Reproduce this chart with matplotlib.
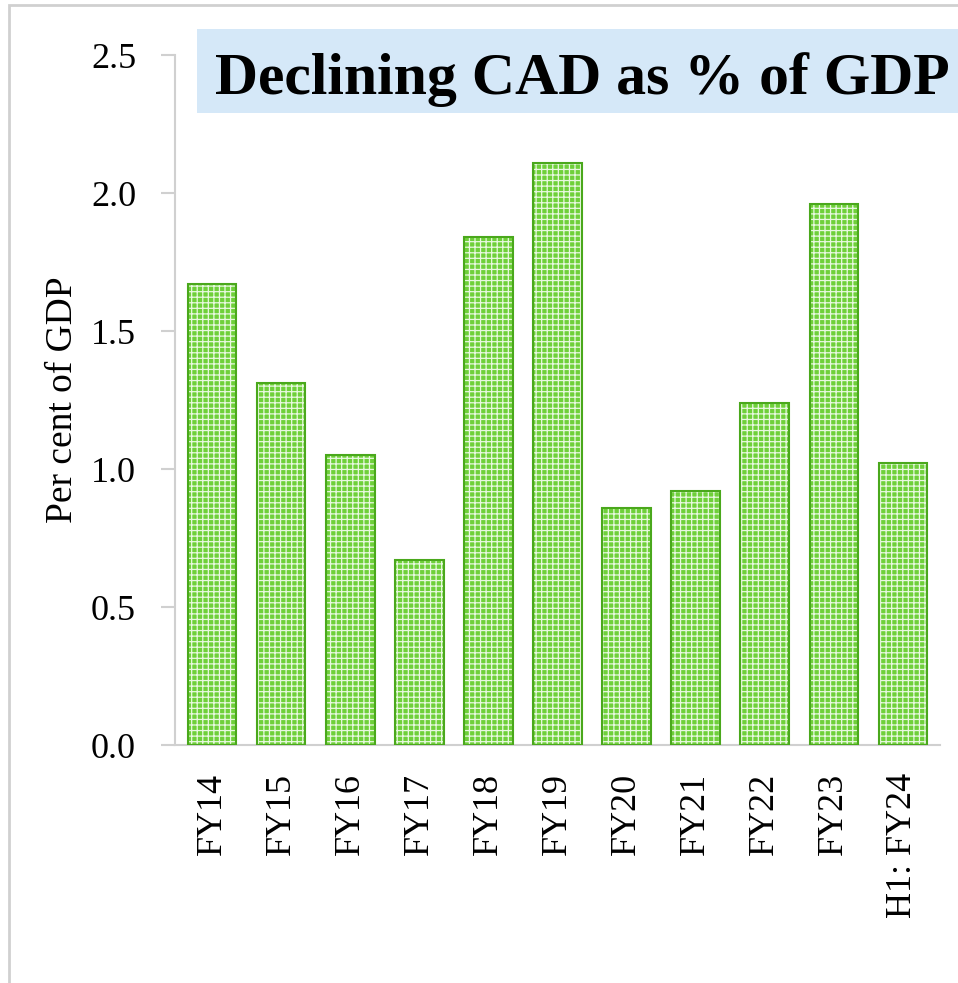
import matplotlib.pyplot as plt
from matplotlib.patches import Rectangle

# CAD as % of GDP
years = ['FY14', 'FY15', 'FY16', 'FY17', 'FY18', 'FY19', 'FY20', 'FY21', 'FY22', 'FY23', 'H1: FY24']
cad = [1.67, 1.31, 1.05, 0.67, 1.84, 2.11, 0.86, 0.92, 1.24, 1.96, 1.02]
yticks = [0.0, 0.5, 1.0, 1.5, 2.0, 2.5]

plt.rcParams['font.family'] = ['Liberation Serif', 'DejaVu Serif']
plt.rcParams['hatch.linewidth'] = 0.9

W, H = 958, 983
fig = plt.figure(figsize=(W / 100, H / 100), dpi=100)

# outer frame
fig.patches.append(Rectangle((9 / W, -0.1), 1.2, 1 - 5 / H + 0.1, transform=fig.transFigure,
                             fill=False, edgecolor='#d0d0d0', linewidth=2))

ax = fig.add_axes([175 / W, 1 - 745 / H, (940 - 175) / W, (745 - 55) / H])

x = range(len(years))
ax.bar(x, cad, width=0.7, color='#6fd03a', edgecolor='#e8f8e0', hatch='+++', linewidth=0, zorder=2)
ax.bar(x, cad, width=0.7, fill=False, edgecolor='#4aa81c', linewidth=1.5, zorder=3)

ax.set_xlim(-0.54, len(years) - 0.46)
ax.set_ylim(0, 2.5)
ax.set_yticks(yticks)
ax.set_yticklabels([f'{v:.1f}' for v in yticks])
ax.set_xticks(list(x))
ax.set_xticklabels(years, rotation=90)

for s in ['top', 'right']:
    ax.spines[s].set_visible(False)
for s in ['left', 'bottom']:
    ax.spines[s].set_color('#d0d0d0')
    ax.spines[s].set_linewidth(1.5)

ax.tick_params(axis='y', length=10, width=1.5, color='#d0d0d0', pad=18, labelsize=26)
ax.tick_params(axis='x', length=0, pad=20, labelsize=26)
ax.set_ylabel('Per cent of GDP', fontsize=27, labelpad=8)

# title box
fig.patches.append(Rectangle((197 / W, 1 - 113 / H), 1.0, 84 / H, transform=fig.transFigure,
                             facecolor='#d5e8f8', edgecolor='none'))
fig.text(215 / W, 1 - 80 / H, 'Declining CAD as % of GDP', fontsize=43, fontweight='bold',
         va='center', ha='left')

fig.savefig('out.png', dpi=100)
